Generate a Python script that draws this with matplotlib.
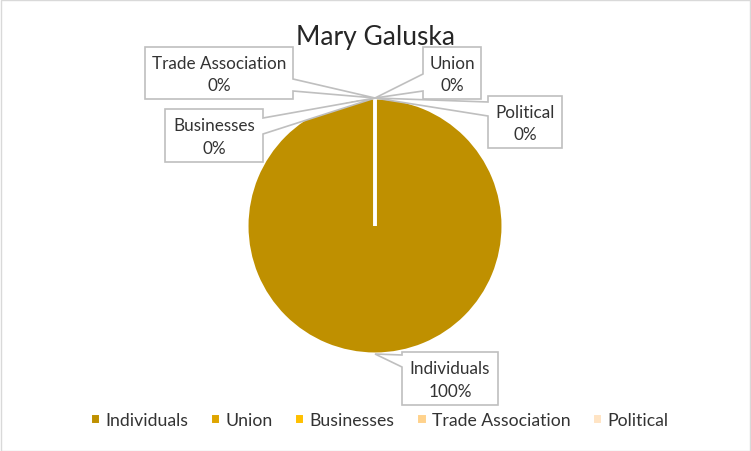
import matplotlib
matplotlib.use("Agg")
import matplotlib.pyplot as plt
import numpy as np
from matplotlib.patches import Polygon, Rectangle

plt.rcParams["font.family"] = ["Lato", "DejaVu Sans"]

# data
title = "Mary Galuska"
categories = ["Individuals", "Union", "Businesses", "Trade Association", "Political"]
shares = [100, 0, 0, 0, 0]
colors = ["#BF9000", "#DFA500", "#FFC000", "#FFD28C", "#FFE4C4"]

W, H = 751, 452


def fy(y):
    # pixel row (from top) -> data y
    return H - y


fig = plt.figure(figsize=(W / 100, H / 100), dpi=100)
ax = fig.add_axes([0, 0, 1, 1])
ax.set_xlim(0, W)
ax.set_ylim(0, H)
ax.axis("off")

# chart area border
fig.patches.append(Rectangle((0.5 / W, 0.5 / H), 1 - 1.5 / W, 1 - 1.5 / H,
                             transform=fig.transFigure, fill=False,
                             edgecolor="#D9D9D9", linewidth=1))

cx, cy, r = 375, fy(227), 128
wedges, _ = ax.pie(shares, colors=colors, startangle=90, counterclock=False,
                   center=(cx, cy), radius=r,
                   wedgeprops=dict(edgecolor="white", linewidth=2.2))
ax.set_aspect("equal")
ax.set_xlim(0, W)
ax.set_ylim(0, H)

ax.text(375, fy(37), title, ha="center", va="center", fontsize=19, color="#262626")


def tip_of(w):
    a = np.deg2rad((w.theta1 + w.theta2) / 2)
    return cx + r * np.cos(a), cy + r * np.sin(a)


# callout boxes: (x0, top, x1, bottom), side of pointer, pointer base rows
boxes = {
    "Individuals": ((402, 353, 498, 406), "left", (356, 368)),
    "Union": ((423, 48, 481, 100), "left", (75, 92)),
    "Businesses": ((165, 110, 263, 163), "right", (119, 135)),
    "Trade Association": ((145, 48, 293, 100), "right", (80, 92)),
    "Political": ((488, 97, 562, 149), "left", (103, 117)),
}

for w, name, val in zip(wedges, categories, shares):
    (x0, t, x1, b), side, (p0, p1) = boxes[name]
    tx, ty = tip_of(w)
    if side == "right":
        pts = [(x0, t), (x1, t), (x1, p0), None, (x1, p1), (x1, b), (x0, b)]
    else:
        pts = [(x0, t), (x1, t), (x1, b), (x0, b), (x0, p1), None, (x0, p0)]
    verts = [(tx, ty) if p is None else (p[0], fy(p[1])) for p in pts]
    ax.add_patch(Polygon(verts, closed=True, facecolor="white",
                         edgecolor="#BFBFBF", linewidth=1.2, zorder=3))
    ax.text((x0 + x1) / 2, fy((t + b) / 2 + 1), f"{name}\n{val}%", ha="center",
            va="center", fontsize=12.3, color="#333333", linespacing=1.5, zorder=4)

ax.legend(wedges, categories, loc="center", ncol=5, frameon=False,
          bbox_to_anchor=(379 / W, 1 - 421 / H), bbox_transform=fig.transFigure,
          fontsize=12.7, handlelength=0.6, handleheight=0.6, handletextpad=0.3,
          columnspacing=1.2, labelcolor="#333333")

fig.savefig("out.png", dpi=100)
